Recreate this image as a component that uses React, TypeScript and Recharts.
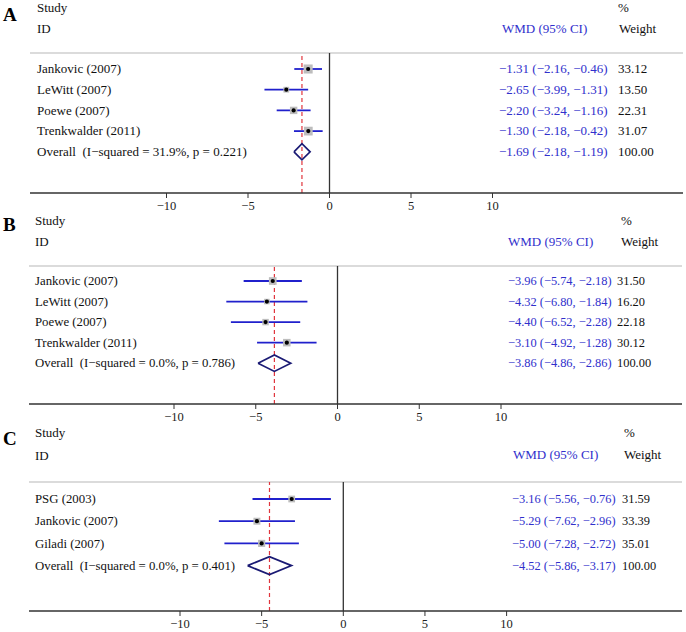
import React from 'react';
import { ComposedChart, Scatter, XAxis, YAxis, ReferenceLine, ErrorBar } from 'recharts';

// ---------- data ----------
const xTicks = [-10, -5, 0, 5, 10];

const studiesA = ['Jankovic (2007)', 'LeWitt (2007)', 'Poewe (2007)', 'Trenkwalder (2011)'];
const wmdA = [-1.31, -2.65, -2.2, -1.3];
const lowA = [-2.16, -3.99, -3.24, -2.18];
const highA = [-0.46, -1.31, -1.16, -0.42];
const weightA = [33.12, 13.5, 22.31, 31.07];
const overallLabelA = 'Overall  (I\u2212squared = 31.9%, p = 0.221)';
const overallA = [-1.69, -2.18, -1.19];

const studiesB = ['Jankovic (2007)', 'LeWitt (2007)', 'Poewe (2007)', 'Trenkwalder (2011)'];
const wmdB = [-3.96, -4.32, -4.4, -3.1];
const lowB = [-5.74, -6.8, -6.52, -4.92];
const highB = [-2.18, -1.84, -2.28, -1.28];
const weightB = [31.5, 16.2, 22.18, 30.12];
const overallLabelB = 'Overall  (I\u2212squared = 0.0%, p = 0.786)';
const overallB = [-3.86, -4.86, -2.86];

const studiesC = ['PSG (2003)', 'Jankovic (2007)', 'Giladi (2007)'];
const wmdC = [-3.16, -5.29, -5.0];
const lowC = [-5.56, -7.62, -7.28];
const highC = [-0.76, -2.96, -2.72];
const weightC = [31.59, 33.39, 35.01];
const overallLabelC = 'Overall  (I\u2212squared = 0.0%, p = 0.401)';
const overallC = [-4.52, -5.86, -3.17];

const overallWeight = 100.0;

// ---------- styles ----------
const SERIF = '"Liberation Serif", "Times New Roman", Times, serif';
const TEXT_BLUE = '#3030cc';
const CI_BLUE = '#2020cc';
const NAVY = '#1a1a74';
const RED = '#e0353d';
const AXIS = '#333333';

const fmt = (v: number) => (v < 0 ? '\u2212' : '') + Math.abs(v).toFixed(2);
const ciText = (e: number, l: number, h: number) => `${fmt(e)} (${fmt(l)}, ${fmt(h)})`;

type Cfg = {
  top: number; sep: number; axis: number; x0: number; x1: number;
  zeroX: number; ppu: number; firstRow: number; rowStep: number;
  nameX: number; ciX: number; wtX: number; nameFont: number; ciFont: number;
  boxK: number; diamondHalf: number;
};

const cfgA: Cfg = { top: 0, sep: 53, axis: 193, x0: 30, x1: 683, zeroX: 329.5, ppu: 16.3, firstRow: 69, rowStep: 20.7, nameX: 37, ciX: 499, wtX: 618, nameFont: 13, ciFont: 13, boxK: 1.57, diamondHalf: 0.39 };
const cfgB: Cfg = { top: 212, sep: 266, axis: 404, x0: 29, x1: 682, zeroX: 337.5, ppu: 16.35, firstRow: 281, rowStep: 20.55, nameX: 35, ciX: 508, wtX: 617, nameFont: 12.8, ciFont: 12.4, boxK: 1.37, diamondHalf: 0.4 };
const cfgC: Cfg = { top: 424, sep: 482, axis: 611, x0: 29, x1: 682, zeroX: 343.3, ppu: 16.33, firstRow: 499, rowStep: 22.2, nameX: 35, ciX: 512, wtX: 622, nameFont: 12.8, ciFont: 12.4, boxK: 1.2, diamondHalf: 0.405 };

function RowTexts({ cfg, cy, payload }: any) {
  const ty = cy + cfg.nameFont * 0.33;
  return (
    <g>
      <text x={cfg.nameX} y={ty} fontFamily={SERIF} fontSize={cfg.nameFont} fill="#111" style={{ whiteSpace: 'pre' }}>{payload.name}</text>
      <text x={cfg.ciX} y={ty} fontFamily={SERIF} fontSize={cfg.ciFont} fill={TEXT_BLUE} style={{ whiteSpace: 'pre' }}>{payload.ci}</text>
      <text x={cfg.wtX} y={ty} fontFamily={SERIF} fontSize={cfg.ciFont} fill="#111">{payload.wt}</text>
    </g>
  );
}

function ForestPanel({ cfg, names, est, low, high, weight, overallLabel, overall }: any) {
  const xDomain = [(cfg.x0 - cfg.zeroX) / cfg.ppu, (cfg.x1 - cfg.zeroX) / cfg.ppu];
  const yDomain = [(cfg.sep - cfg.firstRow) / cfg.rowStep, (cfg.axis - cfg.firstRow) / cfg.rowStep];
  const rows = names.map((n: string, i: number) => ({
    x: est[i], y: i, err: [est[i] - low[i], high[i] - est[i]],
    name: n, ci: ciText(est[i], low[i], high[i]), wt: weight[i].toFixed(2), w: weight[i],
  }));
  const oy = names.length;
  const overallRow = [{ x: overall[0], y: oy, name: overallLabel, ci: ciText(overall[0], overall[1], overall[2]), wt: overallWeight.toFixed(2) }];
  const h = cfg.diamondHalf;
  const diamond = [
    { x: overall[1], y: oy }, { x: overall[0], y: oy - h }, { x: overall[2], y: oy },
    { x: overall[0], y: oy + h }, { x: overall[1], y: oy },
  ];
  const height = cfg.axis - cfg.top + 24;
  return (
    <div style={{ position: 'absolute', left: 0, top: cfg.top }}>
      <ComposedChart width={686} height={height} margin={{ top: cfg.sep - cfg.top, right: 686 - cfg.x1, bottom: 0, left: cfg.x0 }}>
        <XAxis type="number" dataKey="x" domain={xDomain} allowDataOverflow ticks={xTicks} height={24}
          axisLine={{ stroke: AXIS, strokeWidth: 1.6 }} tickLine={{ stroke: AXIS, strokeWidth: 1 }} tickSize={5} tickMargin={3}
          tick={{ fontFamily: SERIF, fontSize: 12.5, fill: '#222' }}
          tickFormatter={(v: number) => (v < 0 ? '\u2212' + Math.abs(v) : String(v))} />
        <YAxis type="number" dataKey="y" domain={yDomain} allowDataOverflow reversed hide />
        <ReferenceLine y={yDomain[0]} stroke="#cfcfcf" strokeWidth={1.6} ifOverflow="visible" />
        <ReferenceLine x={0} stroke={AXIS} strokeWidth={1.3} />
        <ReferenceLine x={overall[0]} stroke={RED} strokeWidth={1.2} strokeDasharray="4 3" />
        <Scatter data={rows} isAnimationActive={false}
          shape={(p: any) => {
            const s = cfg.boxK * Math.sqrt(p.payload.w);
            return <rect x={p.cx - s / 2} y={p.cy - s / 2} width={s} height={s} fill="#bdbdbd" />;
          }} />
        <Scatter data={rows} isAnimationActive={false}
          shape={(p: any) => (
            <g>
              <circle cx={p.cx} cy={p.cy} r={2.1} fill="#000" />
              <RowTexts cfg={cfg} cy={p.cy} payload={p.payload} />
            </g>
          )}>
          <ErrorBar dataKey="err" direction="x" width={0} stroke={CI_BLUE} strokeWidth={1.8} />
        </Scatter>
        <Scatter data={diamond} isAnimationActive={false} line={{ stroke: NAVY, strokeWidth: 1.7 }} lineType="joint"
          shape={() => <g />} />
        <Scatter data={overallRow} isAnimationActive={false}
          shape={(p: any) => <RowTexts cfg={cfg} cy={p.cy} payload={p.payload} />} />
      </ComposedChart>
    </div>
  );
}

function Headers() {
  const T = (x: number, y: number, s: string, fill = '#111', size = 13) => (
    <text x={x} y={y + size * 0.33} fontFamily={SERIF} fontSize={size} fill={fill}>{s}</text>
  );
  const L = (y: number, s: string) => (
    <text x={3} y={y + 6} fontFamily={SERIF} fontSize={19} fontWeight="bold" fill="#000">{s}</text>
  );
  return (
    <svg width={686} height={632} style={{ position: 'absolute', left: 0, top: 0 }}>
      {L(15, 'A')}
      {T(37, 8, 'Study')}{T(37, 29, 'ID')}{T(502, 29, 'WMD (95% CI)', TEXT_BLUE)}{T(618, 8, '%')}{T(619, 29, 'Weight')}
      {L(225, 'B')}
      {T(35, 221, 'Study')}{T(35, 242, 'ID')}{T(508, 242, 'WMD (95% CI)', TEXT_BLUE)}{T(621, 221, '%')}{T(621, 242, 'Weight')}
      {L(439, 'C')}
      {T(35, 433, 'Study')}{T(35, 456, 'ID')}{T(513, 455, 'WMD (95% CI)', TEXT_BLUE)}{T(624, 433, '%')}{T(624, 455, 'Weight')}
    </svg>
  );
}

export default function App() {
  return (
    <div style={{ position: 'absolute', left: 0, top: 0, width: 686, height: 632, overflow: 'hidden', background: '#fff' }}>
      <Headers />
      <ForestPanel cfg={cfgA} names={studiesA} est={wmdA} low={lowA} high={highA} weight={weightA} overallLabel={overallLabelA} overall={overallA} />
      <ForestPanel cfg={cfgB} names={studiesB} est={wmdB} low={lowB} high={highB} weight={weightB} overallLabel={overallLabelB} overall={overallB} />
      <ForestPanel cfg={cfgC} names={studiesC} est={wmdC} low={lowC} high={highC} weight={weightC} overallLabel={overallLabelC} overall={overallC} />
    </div>
  );
}
